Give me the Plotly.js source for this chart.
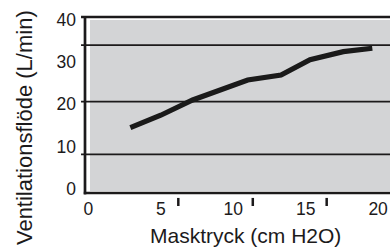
<!DOCTYPE html>
<html>
<head>
<meta charset="utf-8">
<script src="https://cdn.plot.ly/plotly-3.0.1.min.js"></script>
<style>html,body{margin:0;padding:0;background:#fff;}#chart{width:390px;height:250px;}</style>
</head>
<body>
<div id="chart"></div>
<script>
// Data
var maskPressure = [2.9, 5.0, 7.2, 9.1, 11.0, 13.3, 15.3, 17.6, 19.6];      // cm H2O
var ventilationFlow = [14.5, 17.4, 21.0, 23.4, 25.7, 26.9, 30.5, 32.4, 33.2]; // L/min
var xTickVals = [0, 5, 10, 15, 20];
var xTickText = ['0', '5', '10', '15', '20'];
var yTickVals = [0, 10, 20, 30, 40];
var yTickText = ['0', '10', '20', '30', '40'];
var gridY = [33.96, 20.59, 8.18];        // horizontal rules as drawn in the figure
var minorTickX = [6.21, 11.35, 16.45];   // small detached tick marks under the x axis

var FONT = 'Liberation Sans, Arial, Helvetica, sans-serif';
var INK = '#1c1a1b';

var shapes = [];
shapes.push({type:'rect', xref:'paper', yref:'paper', x0:0.0164, x1:1, y0:0.0114, y1:0.983,
  fillcolor:'#d3d4d6', line:{width:0}, layer:'below'});
gridY.forEach(function(v){
  shapes.push({type:'line', xref:'paper', yref:'y', x0:-0.013, x1:1, y0:v, y1:v,
    line:{color:INK, width:1.8}, layer:'below'});
});
shapes.push({type:'line', xref:'paper', yref:'paper', x0:-0.013, x1:1, y0:1, y1:1,
  line:{color:INK, width:2.4}, layer:'below'});
shapes.push({type:'line', xref:'paper', yref:'paper', x0:-0.004, x1:1, y0:0, y1:0,
  line:{color:INK, width:2.6}, layer:'below'});
shapes.push({type:'line', xref:'paper', yref:'paper', x0:0, x1:0, y0:-0.008, y1:1.005,
  line:{color:INK, width:2.7}, layer:'below'});
minorTickX.forEach(function(v){
  shapes.push({type:'line', xref:'x', yref:'paper', x0:v, x1:v, y0:-0.028, y1:-0.074,
    line:{color:INK, width:2.5}, layer:'below'});
});

var trace = {
  x: maskPressure, y: ventilationFlow, type:'scatter', mode:'lines',
  line:{color:'#1a1a1a', width:5.2}, hoverinfo:'x+y'
};

var layout = {
  width:390, height:250,
  margin:{l:85, r:0, t:17, b:57, pad:0},
  paper_bgcolor:'#ffffff', plot_bgcolor:'#ffffff',
  showlegend:false,
  font:{family:FONT, color:INK},
  xaxis:{range:[-0.23, 20.82], tickmode:'array', tickvals:xTickVals, ticktext:xTickText,
    showgrid:false, zeroline:false, showline:false, ticks:'', ticklabelstandoff:3,
    tickfont:{family:FONT, size:17.5, color:INK}, fixedrange:true},
  yaxis:{range:[-0.94, 40.57], tickmode:'array', tickvals:yTickVals, ticktext:yTickText,
    showgrid:false, zeroline:false, showline:false, ticks:'', ticklabelstandoff:8,
    tickfont:{family:FONT, size:17.5, color:INK}, fixedrange:true},
  shapes: shapes,
  annotations:[
    {text:'Masktryck (cm H2O)', xref:'paper', yref:'paper', x:0.527, y:-0.165,
     xanchor:'center', yanchor:'top', showarrow:false, font:{family:FONT, size:21, color:INK}},
    {text:'Ventilationsflöde (L/min)', xref:'paper', yref:'paper', x:-0.2, y:0.369,
     xanchor:'center', yanchor:'middle', textangle:-90, showarrow:false,
     font:{family:FONT, size:22, color:INK}}
  ]
};

Plotly.newPlot('chart', [trace], layout, {staticPlot:true, displayModeBar:false});
</script>
</body>
</html>
